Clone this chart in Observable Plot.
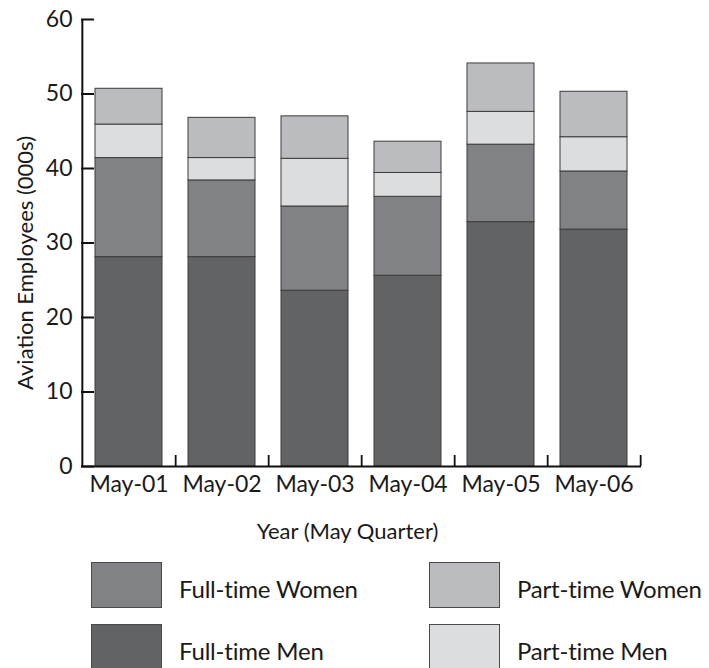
<!DOCTYPE html>
<html><head><meta charset="utf-8">
<script src="https://cdn.jsdelivr.net/npm/d3@7"></script>
<script src="https://cdn.jsdelivr.net/npm/@observablehq/plot@0.6"></script>
<style>
body{margin:0;background:#fff;font-family:Lato,sans-serif;}
#chart svg{display:block}
.legend{position:relative;width:709px;height:118px;overflow:hidden}
.sw{position:absolute;width:69px;height:44px;border:1px solid #4a4a4a;}
.lt{position:absolute;font-size:24px;color:#1a1a1a;line-height:1;white-space:nowrap;letter-spacing:-0.2px}
</style></head><body><div id="chart"></div><div class="legend" id="legend"></div>
<script>
const years = ["May-01", "May-02", "May-03", "May-04", "May-05", "May-06"];
const fullTimeMen   = [28.1, 28.1, 23.6, 25.6, 32.8, 31.8];
const fullTimeWomen = [13.3, 10.3, 11.3, 10.6, 10.4, 7.8];
const partTimeMen   = [4.5, 3.0, 6.4, 3.2, 4.4, 4.6];
const partTimeWomen = [4.8, 5.4, 5.7, 4.2, 6.5, 6.1];
const seriesNames = ["Full-time Men", "Full-time Women", "Part-time Men", "Part-time Women"];
const seriesColors = ["#626365", "#818285", "#dcdddf", "#bbbcbf"];
const yTicks = [0, 10, 20, 30, 40, 50, 60];
const yLabel = "Aviation Employees (000s)";
const xLabel = "Year (May Quarter)";

const seriesValues = [fullTimeMen, fullTimeWomen, partTimeMen, partTimeWomen];
const data = [];
years.forEach((yr, i) => seriesNames.forEach((s, k) => data.push({year: yr, series: s, value: seriesValues[k][i]})));

const W = 709, H = 550, mL = 81, mR = 68, mT = 19, mB = 84;
const innerW = W - mL - mR, innerH = H - mT - mB;
const step = innerW / years.length;

const chart = Plot.plot({
  width: W, height: H,
  marginLeft: mL, marginRight: mR, marginTop: mT, marginBottom: mB,
  style: {fontFamily: "Lato, sans-serif", color: "#1a1a1a", background: "#fff"},
  x: {domain: years, paddingInner: 0.28, paddingOuter: 0.14},
  y: {domain: [0, 60]},
  color: {domain: seriesNames, range: seriesColors},
  marks: [
    Plot.barY(data, {x: "year", y: "value", fill: "series", order: seriesNames, stroke: "#3c3c3c", strokeWidth: 1}),
    Plot.axisY({ticks: yTicks, tickSize: 0, tickPadding: 9, fontSize: 23, label: null}),
    Plot.tickY(yTicks, {y: d => d, insetRight: innerW - 13, stroke: "#111", strokeWidth: 2}),
    Plot.axisX({tickSize: 0, tickPadding: 9, fontSize: 23, label: null}),
    Plot.tickX(years, {x: d => d, dx: step / 2, insetTop: innerH - 11, stroke: "#111", strokeWidth: 1.8}),
    Plot.ruleY([0], {stroke: "#111", strokeWidth: 2}),
    Plot.ruleX([years[0]], {dx: -step / 2, stroke: "#111", strokeWidth: 2}),
    Plot.text([yLabel], {frameAnchor: "left", textAnchor: "middle", dx: -56, dy: 20, rotate: -90, fontSize: 22, fill: "#1a1a1a"}),
    Plot.text([xLabel], {frameAnchor: "bottom", dx: -14, dy: 72, fontSize: 22, fill: "#1a1a1a"})
  ]
});
document.getElementById("chart").appendChild(chart);

// legend
const legendItems = [
  {name: "Full-time Women", col: 0, row: 0},
  {name: "Full-time Men", col: 0, row: 1},
  {name: "Part-time Women", col: 1, row: 0},
  {name: "Part-time Men", col: 1, row: 1}
];
const colX = [91, 429], textX = [179, 517], rowY = [12, 74];
const lg = document.getElementById("legend");
legendItems.forEach(it => {
  const sw = document.createElement("div");
  sw.className = "sw";
  sw.style.left = colX[it.col] + "px";
  sw.style.top = rowY[it.row] + "px";
  sw.style.background = seriesColors[seriesNames.indexOf(it.name)];
  lg.appendChild(sw);
  const t = document.createElement("div");
  t.className = "lt";
  t.style.left = textX[it.col] + "px";
  t.style.top = (rowY[it.row] + 15) + "px";
  t.textContent = it.name;
  lg.appendChild(t);
});
</script></body></html>
